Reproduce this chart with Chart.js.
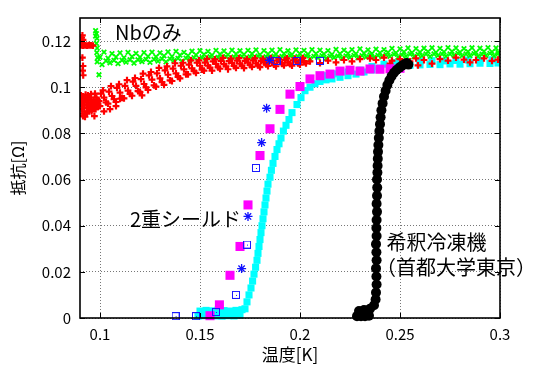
<!DOCTYPE html>
<html>
<head>
<meta charset="utf-8">
<script src="https://cdn.jsdelivr.net/npm/chart.js@4.4.1/dist/chart.umd.min.js"></script>
<style>
  body { margin: 0; background: #fff; }
  canvas { display: block; }
</style>
</head>
<body>
<canvas id="chart" width="533" height="365"></canvas>
<script>
// axis ticks
const xTicks = [0.1, 0.15, 0.2, 0.25, 0.3];
const yTicks = [0, 0.02, 0.04, 0.06, 0.08, 0.1, 0.12];

// Nb only (green x) - band read as four rows
const greenT = [0.100,0.104,0.108,0.112,0.116,0.120,0.124,0.128,0.132,0.136,
  0.140,0.144,0.148,0.152,0.156,0.160,0.164,0.168,0.172,0.176,
  0.180,0.184,0.188,0.192,0.196,0.200,0.204,0.208,0.212,0.216,
  0.220,0.224,0.228,0.232,0.236,0.240,0.244,0.248,0.252,0.256,
  0.260,0.264,0.268,0.272,0.276,0.280,0.284,0.288,0.292,0.296,0.299];
const greenHi = [0.1152,0.1146,0.1149,0.1151,0.1147,0.1150,0.1152,0.1149,0.1153,0.1155,
  0.1151,0.1156,0.1158,0.1155,0.1160,0.1157,0.1161,0.1158,0.1160,0.1162,
  0.1159,0.1161,0.1163,0.1158,0.1162,0.1160,0.1163,0.1161,0.1159,0.1164,
  0.1161,0.1163,0.1166,0.1162,0.1165,0.1163,0.1168,0.1166,0.1170,0.1167,
  0.1169,0.1171,0.1168,0.1172,0.1170,0.1167,0.1171,0.1169,0.1172,0.1170,0.1168];
const greenMid = [0.1130,0.1126,0.1131,0.1128,0.1133,0.1130,0.1134,0.1132,0.1136,0.1134,
  0.1139,0.1137,0.1140,0.1142,0.1139,0.1143,0.1141,0.1144,0.1142,0.1145,
  0.1141,0.1144,0.1143,0.1146,0.1142,0.1145,0.1143,0.1146,0.1144,0.1142,
  0.1145,0.1147,0.1145,0.1148,0.1146,0.1149,0.1151,0.1149,0.1153,0.1150,
  0.1152,0.1154,0.1151,0.1153,0.1155,0.1152,0.1154,0.1151,0.1155,0.1153,0.1152];
const greenQ = [0.1114,0.1116,0.1117,0.1119,0.1119,0.1121,0.1121,0.1123,0.1123,0.1125,
  0.1126,0.1128,0.1128,0.1132,0.1129,0.1133,0.1131,0.1134,0.1132,0.1135,
  0.1132,0.1135,0.1134,0.1137,0.1134,0.1136,0.1134,0.1137,0.1135,0.1135,
  0.1136,0.1138,0.1137,0.1140,0.1138,0.1141,0.1143,0.1140,0.1144,0.1142,
  0.1144,0.1144,0.1144,0.1144,0.1147,0.1144,0.1146,0.1143,0.1147,0.1145,0.1145];
const greenLo = [0.1098,0.1106,0.1102,0.1109,0.1105,0.1111,0.1108,0.1113,0.1110,0.1115,
  0.1113,0.1118,0.1116,0.1121,0.1119,0.1123,0.1120,0.1124,0.1122,0.1125,
  0.1123,0.1126,0.1124,0.1127,0.1125,0.1126,0.1124,0.1127,0.1125,0.1128,
  0.1126,0.1129,0.1128,0.1131,0.1129,0.1132,0.1134,0.1131,0.1135,0.1133,
  0.1136,0.1134,0.1137,0.1135,0.1138,0.1136,0.1137,0.1135,0.1138,0.1136,0.1137];
const greenSpikeX = [0.0978,0.0982,0.0978,0.0985,0.0982,0.0986,0.0984,0.0988,0.0986,0.0995];
const greenSpikeY = [0.1245,0.1232,0.1222,0.1212,0.1190,0.1170,0.1150,0.1128,0.1110,0.1054];

// red +
const redT = [0.100,0.104,0.108,0.112,0.116,0.120,0.124,0.128,0.132,0.136,
  0.140,0.144,0.148,0.152,0.156,0.160,0.164,0.168,0.172,0.176,
  0.180,0.184,0.188,0.192,0.196,0.200];
const redLo = [0.0918,0.0929,0.0936,0.0952,0.0963,0.0980,0.0988,0.1003,0.1010,0.1027,
  0.1038,0.1056,0.1062,0.1072,0.1072,0.1080,0.1078,0.1084,0.1083,0.1088,
  0.1087,0.1092,0.1091,0.1095,0.1094,0.1098];
const redQ1 = [0.0934,0.0948,0.0954,0.0971,0.0983,0.0999,0.1008,0.1022,0.1030,0.1045,
  0.1056,0.1070,0.1076,0.1085,0.1086,0.1091,0.1092,0.1094,0.1096,0.1095,
  0.1099,0.1098,0.1101,0.1100,0.1103,0.1103];
const redMid = [0.0955,0.0962,0.0977,0.0985,0.1006,0.1014,0.1033,0.1038,0.1054,0.1060,
  0.1077,0.1082,0.1093,0.1094,0.1101,0.1100,0.1105,0.1102,0.1107,0.1104,
  0.1108,0.1106,0.1110,0.1107,0.1111,0.1109];
const redQ3 = [0.0972,0.0981,0.0997,0.1006,0.1024,0.1035,0.1051,0.1060,0.1073,0.1081,
  0.1093,0.1098,0.1106,0.1107,0.1112,0.1114,0.1113,0.1115,0.1114,0.1116,
  0.1114,0.1117,0.1115,0.1118,0.1116,0.1118];
const redHi = [0.0986,0.1005,0.1013,0.1031,0.1040,0.1059,0.1066,0.1084,0.1090,0.1104,
  0.1106,0.1116,0.1116,0.1123,0.1121,0.1127,0.1124,0.1126,0.1122,0.1125,
  0.1123,0.1126,0.1123,0.1125,0.1124,0.1126];
const redEarlyX = [0.0905,0.0915,0.0925,0.0935,0.0945,0.0955,0.0965,
  0.0908,0.0912,0.0915, 0.0912,0.0915,0.0913,0.0916,
  0.0905,0.0908,0.0912,0.0915,0.0918,0.0922,0.0925,0.0930,0.0935,0.0940,
  0.0945,0.0950,0.0955,0.0960,0.0965,0.0970,0.0975,0.0980,0.0985,0.0990,
  0.0972,0.0905,0.0928,0.0940,0.0955,0.0975,
  0.0908,0.0920,0.0932,0.0942,0.0952,0.0962,0.0968,0.0978,0.0988,0.0910,
  0.0925,0.0948,0.0958,0.0982,0.0995,0.0915,0.0935,
  0.1020,0.1050,0.1080,0.1100,0.1210];
const redEarlyY = [0.1182,0.1180,0.1181,0.1180,0.1182,0.1181,0.1180,
  0.1215,0.1225,0.1205, 0.1128,0.1092,0.1072,0.1052,
  0.0935,0.0905,0.0885,0.0960,0.0925,0.0895,0.0872,0.0945,0.0910,0.0935,
  0.0895,0.0920,0.0945,0.0905,0.0928,0.0912,0.0935,0.0920,0.0945,0.0928,
  0.0875,0.0965,0.0968,0.0965,0.0970,0.0972,
  0.0950,0.0940,0.0925,0.0912,0.0935,0.0918,0.0945,0.0905,0.0915,0.0918,
  0.0955,0.0955,0.0895,0.0955,0.0940,0.0875,0.0890,
  0.0895,0.0905,0.0918,0.0950,0.0965];
const redTailX = [0.205,0.210,0.214,0.218,0.222,0.226,0.230,0.235,0.238,0.242,
  0.245,0.246,0.250,0.255,0.258,0.259,0.262,0.266,0.270,0.274,
  0.278,0.282,0.285,0.288,0.292,0.296,0.299];
const redTailY = [0.1112,0.1105,0.1115,0.1108,0.1118,0.1112,0.1122,0.1125,0.1118,0.1128,
  0.1102,0.1115,0.1122,0.1112,0.1125,0.1095,0.1118,0.1102,0.1122,0.1115,
  0.1128,0.1120,0.1108,0.1118,0.1125,0.1114,0.1120];

// cyan squares
const cyanX = [0.149,0.152,0.155,0.158,0.161,0.164,0.167,0.170,
  0.150,0.153,0.156,0.159,0.162,0.165,0.168,0.171,
  0.1725,0.1735,0.1745,0.1755,0.1763,0.177,0.1778,0.1785,0.179,0.1795,
  0.180,0.1805,0.181,0.1815,0.182,0.1825,0.183,0.1835,0.184,0.185,
  0.1857,0.1865,0.1875,0.1885,0.1895,0.1905,0.1917,0.193,0.1945,0.196,
  0.1985,0.2005,0.2025,0.205,0.2075,0.210,0.213,0.216,0.220,0.224,
  0.228,0.232,0.236,0.240,0.245,0.250,0.255,0.260,0.265,0.270,
  0.275,0.280,0.285,0.290,0.295,0.299,
  0.212,0.218,0.224,0.230,0.236,0.242,0.248,0.254,0.260,0.266,
  0.272,0.278,0.284,0.290,0.296];
const cyanY = [0.0008,0.0010,0.0007,0.0009,0.0008,0.0010,0.0009,0.0012,
  0.0030,0.0033,0.0031,0.0034,0.0032,0.0030,0.0033,0.0036,
  0.004,0.007,0.010,0.013,0.016,0.019,0.022,0.025,0.028,0.031,
  0.034,0.037,0.040,0.043,0.046,0.049,0.052,0.055,0.058,0.061,
  0.064,0.067,0.070,0.073,0.0755,0.078,0.081,0.0835,0.086,0.089,
  0.0925,0.0955,0.0985,0.1000,0.1015,0.1025,0.1032,0.1036,0.1043,0.1050,
  0.1057,0.1066,0.1075,0.1083,0.1088,0.1092,0.1095,0.1097,0.1099,0.1098,
  0.1101,0.1100,0.1102,0.1104,0.1103,0.1105,
  0.1050,0.1058,0.1066,0.1074,0.1090,0.1100,0.1106,0.1110,0.1113,0.1115,
  0.1114,0.1116,0.1118,0.1117,0.1119];

// magenta filled squares
const magX = [0.155,0.1597,0.165,0.170,0.174,0.180,0.185,0.190,0.195,0.200,
  0.205,0.210,0.215,0.220,0.225,0.230,0.235,0.240,0.245,0.250];
const magY = [0.0010,0.0057,0.0185,0.0310,0.0490,0.0704,0.0820,0.0904,0.0970,0.1003,
  0.1036,0.1050,0.1057,0.1070,0.1074,0.1070,0.1079,0.1078,0.1080,0.1082];

// blue open squares
const sqX = [0.1378,0.148,0.158,0.168,0.1735,0.178,0.1883,0.1983,0.210];
const sqY = [0.0008,0.0008,0.0026,0.0100,0.0318,0.0650,0.1114,0.1114,0.1114];

// blue asterisks
const starX = [0.1708,0.174,0.1808,0.1833,0.1847];
const starY = [0.0214,0.0440,0.0760,0.0909,0.1117];

// black circles (dilution refrigerator)
const blackX = [0.2285,0.2305,0.2325,0.2345,0.2295,0.2320,0.2350,0.2370,0.2378,0.2380,
  0.2383,0.2382,0.2380,0.2383,0.2382,0.2380,0.2383,0.2382,0.2383,0.2385,
  0.2383,0.2385,0.2386,0.2385,0.2387,0.2388,0.2389,0.2390,0.2392,0.2394,
  0.2397,0.2400,0.2403,0.2407,0.2413,0.2420,0.2428,0.2437,0.2447,0.2458,
  0.2470,0.2483,0.2497,0.2510,0.2522,0.2533,0.2542];
const blackY = [0.0008,0.0008,0.0008,0.0010,0.0030,0.0035,0.0040,0.0055,0.0080,0.0110,
  0.0145,0.0180,0.0215,0.0250,0.0285,0.0320,0.0355,0.0390,0.0425,0.0460,
  0.0495,0.0530,0.0565,0.0600,0.0630,0.0660,0.0690,0.0720,0.0750,0.0780,
  0.0810,0.0840,0.0870,0.0900,0.0930,0.0960,0.0985,0.1010,0.1030,0.1048,
  0.1063,0.1075,0.1085,0.1093,0.1100,0.1105,0.1098];

const labelFont = "'Noto Sans CJK JP', 'Noto Sans', sans-serif";

function pts(xs, ys, shift) {
    return xs.map((x, i) => ({ x: x + (shift || 0), y: ys[i] }));
}

// gnuplot style open square with a dot in the middle
function openSquare(size, color) {
    const c = document.createElement('canvas');
    c.width = size;
    c.height = size;
    const g = c.getContext('2d');
    g.strokeStyle = color;
    g.lineWidth = 1;
    g.strokeRect(0.5, 0.5, size - 1, size - 1);
    g.fillStyle = color;
    g.fillRect(Math.floor(size / 2), Math.floor(size / 2), 1, 1);
    return c;
}

const clipArea = { left: 0, top: 0, right: 0, bottom: 4 };

const greenPts = [].concat(pts(greenT, greenMid), pts(greenT, greenHi, 0.002),
    pts(greenT, greenQ, 0.003), pts(greenT, greenLo, 0.001), pts(greenSpikeX, greenSpikeY));
const redPts = [].concat(pts(redT, redLo), pts(redT, redQ1, 0.003), pts(redT, redMid, 0.002),
    pts(redT, redQ3, 0.0005), pts(redT, redHi, 0.0015),
    pts(redEarlyX, redEarlyY), pts(redTailX, redTailY));

// inner tick marks, frame and text labels
const framePlugin = {
    id: 'frame',
    afterDraw(chart) {
        const ctx = chart.ctx;
        const a = chart.chartArea;
        const xs = chart.scales.x, ys = chart.scales.y;
        ctx.save();
        ctx.strokeStyle = '#000';
        ctx.lineWidth = 1;
        ctx.beginPath();
        xTicks.forEach(v => {
            const px = Math.round(xs.getPixelForValue(v)) + 0.5;
            ctx.moveTo(px, a.bottom); ctx.lineTo(px, a.bottom - 5);
            ctx.moveTo(px, a.top); ctx.lineTo(px, a.top + 5);
        });
        yTicks.forEach(v => {
            const py = Math.round(ys.getPixelForValue(v)) + 0.5;
            ctx.moveTo(a.left, py); ctx.lineTo(a.left + 5, py);
            ctx.moveTo(a.right, py); ctx.lineTo(a.right - 5, py);
        });
        ctx.stroke();
        ctx.lineWidth = 1.6;
        ctx.strokeRect(a.left, a.top, a.right - a.left, a.bottom - a.top);

        ctx.fillStyle = '#000';
        ctx.font = '20px ' + labelFont;
        ctx.textBaseline = 'middle';
        ctx.textAlign = 'left';
        ctx.fillText('Nbのみ', xs.getPixelForValue(0.1075), ys.getPixelForValue(0.1236));
        ctx.fillText('2重シールド', xs.getPixelForValue(0.115), ys.getPixelForValue(0.0427));
        ctx.fillText('希釈冷凍機', xs.getPixelForValue(0.2433), ys.getPixelForValue(0.0326));
        ctx.fillText('（首都大学東京）', xs.getPixelForValue(0.238), ys.getPixelForValue(0.0219));
        ctx.restore();
    }
};

new Chart(document.getElementById('chart'), {
    type: 'scatter',
    data: {
        datasets: [
            { data: pts(blackX, blackY), order: 1, pointStyle: 'circle', pointRadius: 5,
              backgroundColor: '#000', borderColor: '#000', borderWidth: 0, clip: clipArea },
            { data: pts(starX, starY), order: 2, pointStyle: 'star', pointRadius: 4.5,
              borderColor: '#1010ff', borderWidth: 1.3, clip: clipArea },
            { data: pts(sqX, sqY), order: 3, pointStyle: openSquare(8, '#1a1aff'), clip: clipArea },
            { data: pts(magX, magY), order: 4, pointStyle: 'rect', pointRadius: 6.4,
              backgroundColor: '#ff00ff', borderColor: '#ff00ff', borderWidth: 0, clip: clipArea },
            { data: redPts, order: 5, pointStyle: 'cross', pointRadius: 3.4,
              borderColor: '#ff0000', borderWidth: 2.2, clip: clipArea },
            { data: greenPts, order: 6, pointStyle: 'crossRot', pointRadius: 3.2,
              borderColor: '#00ff00', borderWidth: 1.8, clip: clipArea },
            { data: pts(cyanX, cyanY), order: 7, pointStyle: 'rect', pointRadius: 5,
              backgroundColor: '#00ffff', borderColor: '#00ffff', borderWidth: 0, clip: clipArea }
        ]
    },
    options: {
        responsive: false,
        animation: false,
        devicePixelRatio: 1,
        layout: { padding: { left: 0, right: 33, top: 13, bottom: 0 } },
        plugins: { legend: { display: false }, tooltip: { enabled: false } },
        scales: {
            x: {
                type: 'linear',
                min: 0.09,
                max: 0.3,
                afterBuildTicks: s => { s.ticks = xTicks.map(v => ({ value: v })); },
                afterFit: s => { s.height = 47; },
                grid: { color: '#777', drawTicks: false },
                border: { display: false, dash: [1, 2] },
                ticks: { color: '#000', padding: 7, font: { size: 15, family: labelFont },
                         callback: v => String(+v.toFixed(2)) },
                title: { display: true, text: '温度[K]', color: '#000', padding: { top: 0, bottom: 0 },
                         font: { size: 17, family: labelFont } }
            },
            y: {
                type: 'linear',
                min: 0,
                max: 0.13,
                afterBuildTicks: s => { s.ticks = yTicks.map(v => ({ value: v })); },
                afterFit: s => { s.width = 80; },
                grid: { color: '#777', drawTicks: false },
                border: { display: false, dash: [1, 2] },
                ticks: { color: '#000', padding: 9, font: { size: 15, family: labelFont },
                         callback: v => String(+v.toFixed(2)) },
                title: { display: true, text: '抵抗[Ω]', color: '#000', padding: { top: 8, bottom: 0 },
                         font: { size: 16, family: labelFont } }
            }
        }
    },
    plugins: [framePlugin]
});
</script>
</body>
</html>
